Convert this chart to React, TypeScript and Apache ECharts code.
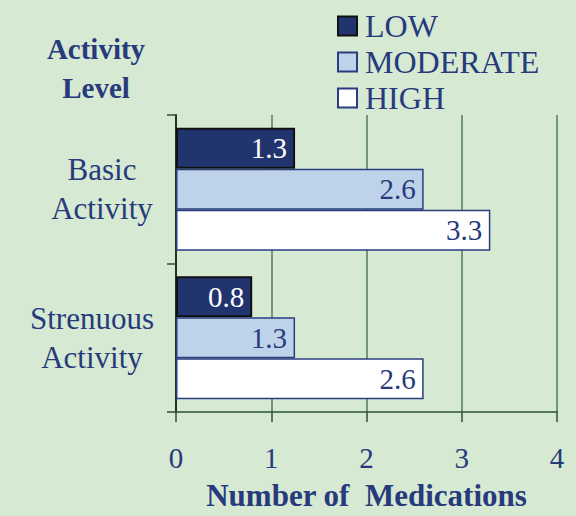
import React, { useEffect, useRef } from "react";
import * as echarts from "echarts";

const categories = ["Basic\nActivity", "Strenuous\nActivity"];
const seriesNames = ["LOW", "MODERATE", "HIGH"];
const lowValues = [1.25, 0.8];
const moderateValues = [2.6, 1.25];
const highValues = [3.3, 2.6];
const xTicks = [0, 1, 2, 3, 4];

const NAVY = "#22346e";
const TEXT = "#263a7c";
const LIGHT = "#bed3ea";
const BG = "#d6e9d2";
const GRIDC = "#4f7d50";
const FONT = "'Liberation Serif', 'Times New Roman', serif";

export default function App() {
  const ref = useRef<HTMLDivElement>(null);
  useEffect(() => {
    const chart = echarts.init(ref.current!, null, { renderer: "svg" });
    const mk = (name: string, data: number[], fill: string, border: string, bw: number, lc: string) => ({
      name,
      type: "bar",
      data,
      barWidth: 41,
      barGap: "0%",
      itemStyle: { color: fill, borderColor: border, borderWidth: bw },
      label: {
        show: true,
        position: "insideRight",
        distance: 8,
        color: lc,
        fontFamily: FONT,
        fontSize: 29,
        formatter: (p: any) => Number(p.value).toFixed(1),
      },
    });
    const labelRich = (w: number) => ({
      width: w,
      align: "center",
      fontFamily: FONT,
      fontSize: 31,
      lineHeight: 39,
      color: TEXT,
    });
    chart.setOption({
      animation: false,
      backgroundColor: BG,
      textStyle: { fontFamily: FONT },
      grid: { left: 176, right: 19, top: 115, bottom: 99 },
      legend: {
        data: seriesNames,
        orient: "vertical",
        left: 337,
        top: 10,
        padding: 0,
        itemWidth: 19,
        itemHeight: 19,
        itemGap: 4,
        icon: "rect",
        textStyle: { fontFamily: FONT, fontSize: 32, lineHeight: 32, color: TEXT, padding: [0, 0, 0, 3] },
      },
      graphic: [
        {
          type: "text",
          style: {
            x: 96,
            y: 29,
            text: "Activity\nLevel",
            align: "center",
            verticalAlign: "top",
            fontFamily: FONT,
            fontWeight: "bold",
            fontSize: 29,
            lineHeight: 39,
            fill: TEXT,
          },
        },
      ],
      xAxis: {
        type: "value",
        min: 0,
        max: 4,
        interval: 1,
        axisLine: { show: true, lineStyle: { color: "#2e5230", width: 1.5 } },
        axisTick: { show: true, length: 10, lineStyle: { color: "#2e5230", width: 1.5 } },
        splitLine: { show: true, lineStyle: { color: GRIDC, width: 1.5 } },
        axisLabel: {
          margin: 31,
          fontFamily: FONT,
          fontSize: 29,
          color: TEXT,
          formatter: (v: number) => (xTicks.includes(v) ? String(v) : ""),
        },
        name: "Number of  Medications",
        nameLocation: "middle",
        nameGap: 68,
        nameTextStyle: { fontFamily: FONT, fontWeight: "bold", fontSize: 31, color: TEXT },
      },
      yAxis: {
        type: "category",
        data: categories,
        inverse: true,
        axisLine: { show: true, lineStyle: { color: "#1f3323", width: 2 } },
        axisTick: { show: true, length: 9, lineStyle: { color: "#2e5230", width: 1.5 } },
        axisLabel: {
          margin: 23,
          align: "right",
          fontFamily: FONT,
          fontSize: 31,
          lineHeight: 39,
          color: TEXT,
          formatter: (v: string, i: number) =>
            v
              .split("\n")
              .map((l) => `{c${i}|${l}}`)
              .join("\n"),
          rich: { c0: labelRich(102), c1: labelRich(122) },
        },
      },
      series: [
        mk("LOW", lowValues, NAVY, "#111111", 2, "#ffffff"),
        mk("MODERATE", moderateValues, LIGHT, "#2b3d80", 1.5, TEXT),
        mk("HIGH", highValues, "#ffffff", "#2b3d80", 1.5, TEXT),
      ],
    });
    return () => chart.dispose();
  }, []);
  return <div ref={ref} style={{ width: 576, height: 516, position: "absolute", left: 0, top: 0 }} />;
}
